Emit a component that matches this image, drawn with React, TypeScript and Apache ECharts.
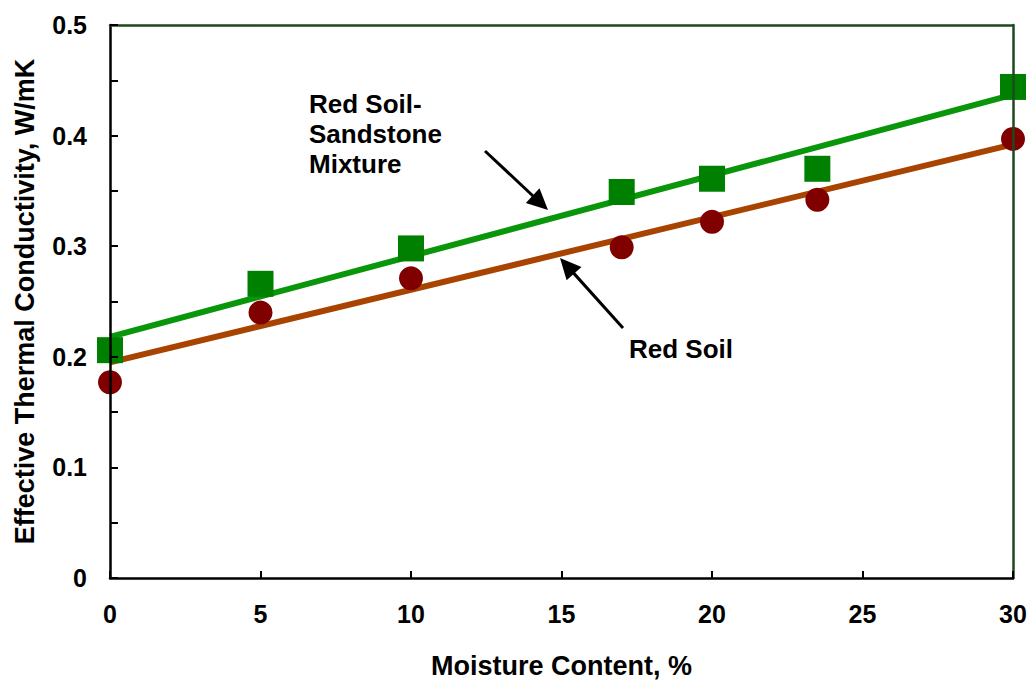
import React, { useEffect, useRef } from "react";
import * as echarts from "echarts";

// Moisture content (%) of the measured samples
const moisture = [0, 5, 10, 17, 20, 23.5, 30];
// Effective thermal conductivity (W/mK)
const redSoil = [0.177, 0.24, 0.271, 0.299, 0.322, 0.342, 0.397];
const mixture = [0.206, 0.266, 0.298, 0.349, 0.361, 0.37, 0.444];
// Trend line end points (x = 0 and x = 30)
const trendX = [0, 30];
const redSoilTrend = [0.195, 0.392];
const mixtureTrend = [0.218, 0.437];

const xTicks = [0, 5, 10, 15, 20, 25, 30];
const yTicks = [0, 0.1, 0.2, 0.3, 0.4, 0.5];

const FONT = "'Liberation Sans', Arial, Helvetica, sans-serif";

function pair(xs: number[], ys: number[]) {
  return xs.map((x, i) => [x, ys[i]]);
}

function arrow(tail: number[], tip: number[], headLen: number, halfW: number) {
  const dx = tip[0] - tail[0];
  const dy = tip[1] - tail[1];
  const len = Math.sqrt(dx * dx + dy * dy);
  const ux = dx / len;
  const uy = dy / len;
  const nx = -uy;
  const ny = ux;
  const bx = tip[0] - headLen * ux;
  const by = tip[1] - headLen * uy;
  return [
    {
      type: "line",
      shape: { x1: tail[0], y1: tail[1], x2: bx + ux * 2, y2: by + uy * 2 },
      style: { stroke: "#000", lineWidth: 3 },
      z: 10,
    },
    {
      type: "polygon",
      shape: {
        points: [
          [tip[0], tip[1]],
          [bx + halfW * nx, by + halfW * ny],
          [bx - halfW * nx, by - halfW * ny],
        ],
      },
      style: { fill: "#000" },
      z: 10,
    },
  ];
}

export default function App() {
  const ref = useRef<HTMLDivElement>(null);

  useEffect(() => {
    if (!ref.current) return;
    const chart = echarts.init(ref.current, null, { renderer: "svg" });
    const labelStyle = {
      fontFamily: FONT,
      fontWeight: "bold" as const,
      fontSize: 25,
      color: "#000",
    };
    chart.setOption({
      animation: false,
      backgroundColor: "#fff",
      grid: { left: 110, right: 22, top: 25, bottom: 105, containLabel: false },
      xAxis: [
        {
          type: "value",
          min: xTicks[0],
          max: xTicks[xTicks.length - 1],
          interval: 5,
          name: "Moisture Content, %",
          nameLocation: "middle",
          nameGap: 74,
          nameTextStyle: { ...labelStyle, fontSize: 27 },
          axisLine: { show: true, onZero: false, lineStyle: { color: "#000", width: 2.5 } },
          axisTick: { show: true, inside: true, length: 7, lineStyle: { color: "#000", width: 2 } },
          axisLabel: { ...labelStyle, margin: 23 },
          splitLine: { show: false },
          z: 5,
        },
        {
          type: "value",
          position: "top",
          min: 0,
          max: 30,
          axisLine: { show: true, onZero: false, lineStyle: { color: "#1d4a1d", width: 2.5 } },
          axisTick: { show: false },
          axisLabel: { show: false },
          splitLine: { show: false },
          z: 5,
        },
      ],
      yAxis: [
        {
          type: "value",
          min: yTicks[0],
          max: yTicks[yTicks.length - 1],
          interval: 0.1,
          name: "Effective Thermal Conductivity, W/mK",
          nameLocation: "middle",
          nameGap: 72,
          nameTextStyle: { ...labelStyle, fontSize: 27 },
          axisLine: { show: true, onZero: false, lineStyle: { color: "#000", width: 2.5 } },
          axisTick: { show: true, inside: true, length: 8, lineStyle: { color: "#000", width: 2 } },
          minorTick: { show: true, splitNumber: 2, length: 8, lineStyle: { color: "#000", width: 2 } },
          axisLabel: {
            ...labelStyle,
            margin: 23,
            formatter: (v: number) => (v === 0 ? "0" : v.toFixed(1)),
          },
          splitLine: { show: false },
          z: 5,
        },
        {
          type: "value",
          position: "right",
          min: 0,
          max: 0.5,
          axisLine: { show: true, onZero: false, lineStyle: { color: "#1d4a1d", width: 2.5 } },
          axisTick: { show: false },
          axisLabel: { show: false },
          splitLine: { show: false },
          z: 5,
        },
      ],
      series: [
        {
          name: "Red Soil trend",
          type: "line",
          data: pair(trendX, redSoilTrend),
          symbol: "none",
          lineStyle: { color: "#A84300", width: 6 },
          z: 2,
        },
        {
          name: "Mixture trend",
          type: "line",
          data: pair(trendX, mixtureTrend),
          symbol: "none",
          lineStyle: { color: "#0A960A", width: 6 },
          z: 2,
        },
        {
          name: "Red Soil",
          type: "scatter",
          data: pair(moisture, redSoil),
          symbol: "circle",
          symbolSize: 24,
          itemStyle: { color: "#800000", opacity: 1 },
          clip: false,
          z: 3,
        },
        {
          name: "Red Soil-Sandstone Mixture",
          type: "scatter",
          data: pair(moisture, mixture),
          symbol: "rect",
          symbolSize: 26,
          itemStyle: { color: "#008000", opacity: 1 },
          clip: false,
          z: 3,
        },
      ],
      graphic: [
        {
          type: "text",
          left: 309,
          top: 89,
          style: {
            text: "Red Soil-\nSandstone\nMixture",
            font: `bold 26px ${FONT}`,
            fill: "#000",
            lineHeight: 30,
          },
          z: 10,
        },
        {
          type: "text",
          left: 629,
          top: 336,
          style: {
            text: "Red Soil",
            font: `bold 26px ${FONT}`,
            fill: "#000",
          },
          z: 10,
        },
        ...arrow([485, 151], [548, 210], 21, 10),
        ...arrow([623, 328], [560, 258], 21, 10),
      ],
    });
    return () => chart.dispose();
  }, []);

  return (
    <div
      ref={ref}
      style={{ position: "fixed", left: 0, top: 0, width: 1035, height: 684, background: "#fff" }}
    />
  );
}
